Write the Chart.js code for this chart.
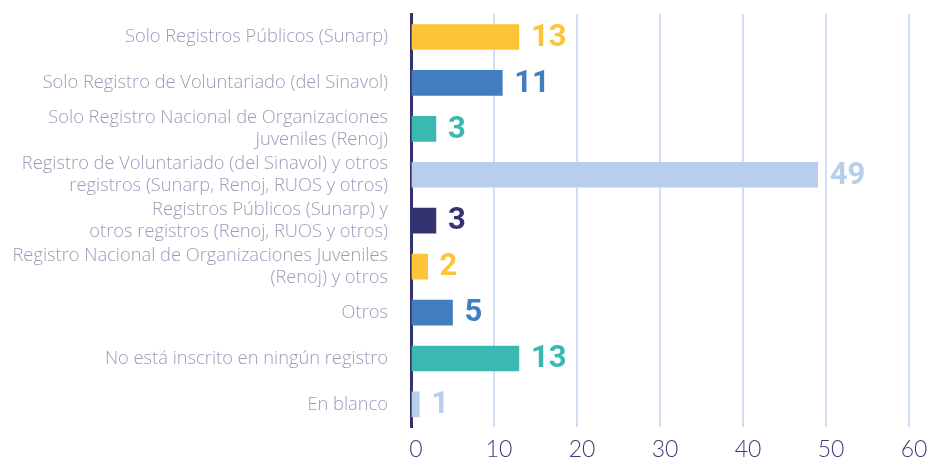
<!DOCTYPE html>
<html>
<head>
<meta charset="utf-8">
<script src="https://cdn.jsdelivr.net/npm/chart.js@4.4.0/dist/chart.umd.min.js"></script>
<style>
  html, body { margin: 0; padding: 0; background: #ffffff; }
  #wrap { width: 940px; height: 459px; position: relative; }
</style>
</head>
<body>
<div id="wrap"><canvas id="grafico"></canvas></div>
<script>
const categorias = [
    'Solo Registros Públicos (Sunarp)',
    'Solo Registro de Voluntariado (del Sinavol)',
    ['Solo Registro Nacional de Organizaciones', 'Juveniles (Renoj)'],
    ['Registro de Voluntariado (del Sinavol) y otros', 'registros (Sunarp, Renoj, RUOS y otros)'],
    ['Registros Públicos (Sunarp) y', 'otros registros (Renoj, RUOS y otros)'],
    ['Registro Nacional de Organizaciones Juveniles', '(Renoj) y otros'],
    'Otros',
    'No está inscrito en ningún registro',
    'En blanco'
];
const valores = [13, 11, 3, 49, 3, 2, 5, 13, 1];
const colores = ['#fbc537', '#427dbf', '#3ab8b1', '#b8ceec', '#343370', '#fbc537', '#427dbf', '#3ab8b1', '#b8ceec'];
const ticksX = [0, 10, 20, 30, 40, 50, 60];

// Dibuja el valor al final de cada barra, del mismo color
const etiquetasValor = {
    id: 'etiquetasValor',
    afterDatasetsDraw(chart) {
        const ctx = chart.ctx;
        const meta = chart.getDatasetMeta(0);
        ctx.save();
        ctx.font = '700 31px Roboto';
        ctx.textAlign = 'left';
        ctx.textBaseline = 'middle';
        meta.data.forEach((barra, i) => {
            ctx.fillStyle = colores[i];
            ctx.fillText(String(valores[i]), barra.x + 12, barra.y + 1);
        });
        ctx.restore();
    }
};

new Chart(document.getElementById('grafico').getContext('2d'), {
    type: 'bar',
    data: {
        labels: categorias,
        datasets: [{
            data: valores,
            backgroundColor: colores,
            barThickness: 25,
            borderWidth: 0
        }]
    },
    options: {
        indexAxis: 'y',
        responsive: true,
        maintainAspectRatio: false,
        animation: false,
        layout: { padding: { top: 14, right: 31, bottom: -12, left: 0 } },
        plugins: {
            legend: { display: false },
            tooltip: { enabled: false }
        },
        scales: {
            x: {
                min: 0,
                max: 60,
                afterBuildTicks: scale => { scale.ticks = ticksX.map(v => ({ value: v })); },
                grid: { color: '#d0def3', lineWidth: 2, drawTicks: false },
                border: { display: false },
                ticks: {
                    color: '#3b3e78',
                    padding: 8,
                    labelOffset: 5,
                    font: { family: 'Lato', size: 23, weight: '300' }
                }
            },
            y: {
                grid: { display: false },
                border: { display: true, color: '#343370', width: 3 },
                afterFit: scale => {
                    scale.width = 411;
                    scale.paddingTop = 0;
                    scale.paddingBottom = 0;
                },
                ticks: {
                    autoSkip: false,
                    color: '#9a9cb8',
                    padding: 15,
                    font: { family: 'Open Sans', size: 18.3, weight: '300', lineHeight: 1.22 }
                }
            }
        }
    },
    plugins: [etiquetasValor]
});
</script>
</body>
</html>
